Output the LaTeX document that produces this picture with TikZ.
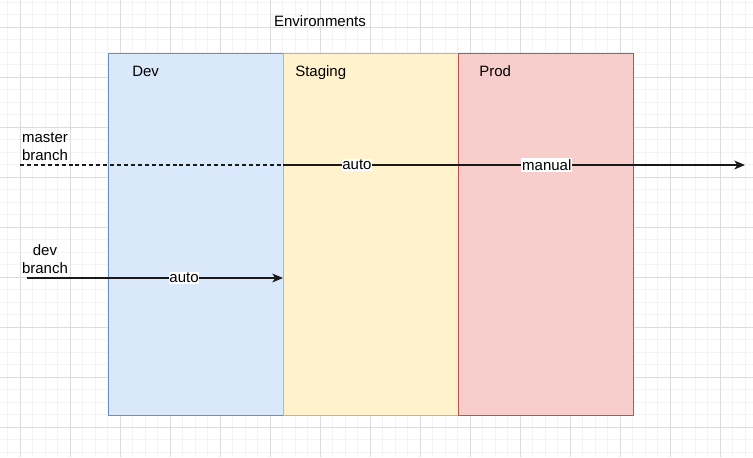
\documentclass[tikz,border=0pt]{standalone}
\usepackage{fontspec}
\setmainfont{Liberation Sans}
\usetikzlibrary{arrows.meta}
\definecolor{devfill}{HTML}{DAE8FC}
\definecolor{devline}{HTML}{6C8EBF}
\definecolor{stgfill}{HTML}{FFF2CC}
\definecolor{stgline}{HTML}{D6B656}
\definecolor{prodfill}{HTML}{F8CECC}
\definecolor{prodline}{HTML}{B85450}
\definecolor{gridminor}{HTML}{F3F3F3}
\definecolor{gridmajor}{HTML}{DCDCDC}
\begin{document}
\begin{tikzpicture}[x=0.75pt,y=-0.75pt,
  txt/.style={font=\fontsize{11.25}{13.5}\selectfont, inner sep=0pt, text=black},
  envbox/.style={draw, line width=1.1pt, anchor=north west, inner sep=0pt,
    minimum width=131.25pt, minimum height=271.5pt},
  flow/.style={line width=0.95pt, draw=black!90},
  tip/.style={-{Stealth[length=8pt,width=6.6pt,inset=2.2pt]}},
  lbl/.style={txt, fill=white, inner xsep=0.6pt, inner ysep=0.8pt}]
\useasboundingbox (0,0) rectangle (753,457);
\fill[white] (0,0) rectangle (753,457);
% grid
\foreach \i in {0,...,59} {
  \draw[gridminor, line width=0.75pt] ({7.8+12.5*\i},0) -- ({7.8+12.5*\i},457);
}
\foreach \i in {0,...,36} {
  \draw[gridminor, line width=0.75pt] (0,{2.3+12.5*\i}) -- (753,{2.3+12.5*\i});
}
\foreach \i in {0,...,14} {
  \draw[gridmajor, line width=0.75pt] ({20.3+50*\i},0) -- ({20.3+50*\i},457);
}
\foreach \i in {0,...,8} {
  \draw[gridmajor, line width=0.75pt] (0,{27.3+50*\i}) -- (753,{27.3+50*\i});
}
% environment columns
\node[envbox, fill=devfill, draw=devline] (dev) at (108,52.5) {};
\node[envbox, fill=stgfill, draw=stgline] (stg) at (283,52.5) {};
\node[envbox, fill=prodfill, draw=prodline] (prod) at (458,52.5) {};
% titles
\node[txt, anchor=base] (envtitle) at (320,26.5) {Environments};
\node[txt, anchor=base west] (devtitle) at (132,76.5) {Dev};
\node[txt, anchor=base west] (stgtitle) at (295,76.5) {Staging};
\node[txt, anchor=base west] (prodtitle) at (479,76.5) {Prod};
% branch labels
\node[txt, align=center] (master) at (45,147) {master\\branch};
\node[txt, align=center] (devbr) at (45,259) {dev\\branch};
% connectors
\coordinate (ms) at (20,165);
\coordinate (me) at (745,165);
\coordinate (ds) at (26.7,278);
\draw[flow, dash pattern=on 3pt off 2.2pt] (ms) -- (stg.west |- ms);
\draw[flow, tip] (stg.west |- ms) -- (me)
  node[lbl, pos=0.16] (autoA) {auto}
  node[lbl, pos=0.571] (manual) {manual};
\draw[flow, tip] (ds) -- (stg.west |- ds)
  node[lbl, pos=0.614] (autoB) {auto};
\end{tikzpicture}
\end{document}
